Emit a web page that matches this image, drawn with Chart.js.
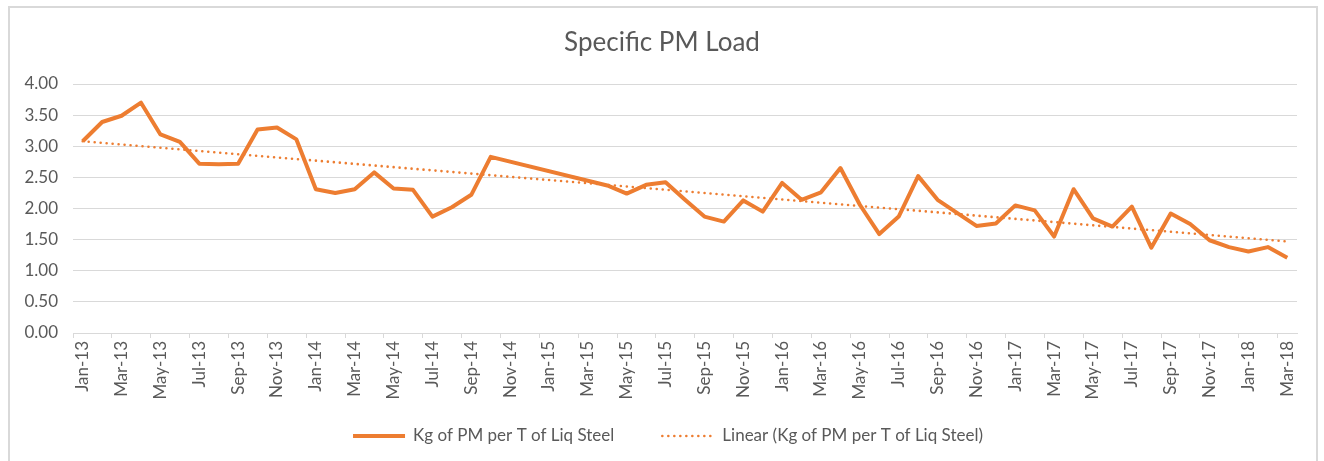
<!DOCTYPE html>
<html>
<head>
<meta charset="utf-8">
<title>Specific PM Load</title>
<script src="https://cdn.jsdelivr.net/npm/chart.js@4.4.1/dist/chart.umd.min.js"></script>
<style>
  html, body { margin: 0; padding: 0; background: #ffffff; overflow: hidden; }
  #wrap { position: relative; width: 1324px; height: 461px; }
  #frame {
    position: absolute; left: 8px; top: 6px; width: 1310px; height: 480px;
    border: 2px solid #d9d9d9; box-sizing: border-box;
  }
  #chart { position: absolute; left: 0; top: 0; }
</style>
</head>
<body>
<div id="wrap">
  <div id="frame"></div>
  <canvas id="chart" width="1324" height="461"></canvas>
</div>
<script>
// Monthly categories, Jan-13 .. Mar-18
const months = [
  'Jan-13','Feb-13','Mar-13','Apr-13','May-13','Jun-13','Jul-13','Aug-13','Sep-13','Oct-13','Nov-13','Dec-13',
  'Jan-14','Feb-14','Mar-14','Apr-14','May-14','Jun-14','Jul-14','Aug-14','Sep-14','Oct-14','Nov-14','Dec-14',
  'Jan-15','Feb-15','Mar-15','Apr-15','May-15','Jun-15','Jul-15','Aug-15','Sep-15','Oct-15','Nov-15','Dec-15',
  'Jan-16','Feb-16','Mar-16','Apr-16','May-16','Jun-16','Jul-16','Aug-16','Sep-16','Oct-16','Nov-16','Dec-16',
  'Jan-17','Feb-17','Mar-17','Apr-17','May-17','Jun-17','Jul-17','Aug-17','Sep-17','Oct-17','Nov-17','Dec-17',
  'Jan-18','Feb-18','Mar-18'
];

// Kg of PM per tonne of liquid steel (no readings Nov-14 .. Mar-15)
const pmLoad = [
  3.08, 3.39, 3.49, 3.70, 3.19, 3.07, 2.72, 2.71, 2.72, 3.27, 3.30, 3.11,
  2.31, 2.25, 2.31, 2.58, 2.32, 2.30, 1.87, 2.02, 2.22, 2.83, null, null,
  null, null, null, 2.37, 2.24, 2.38, 2.42, 2.14, 1.87, 1.79, 2.13, 1.95,
  2.41, 2.14, 2.26, 2.65, 2.06, 1.59, 1.87, 2.52, 2.14, 1.93, 1.72, 1.76,
  2.05, 1.97, 1.55, 2.31, 1.84, 1.71, 2.03, 1.37, 1.92, 1.75, 1.49, 1.38,
  1.31, 1.38, 1.21
];

// Linear trend: value at the first and at the last month
const trendEnds = [3.08, 1.47];

// Value axis
const yMin = 0;
const yMax = 4;
const yStep = 0.5;

const seriesName = 'Kg of PM per T of Liq Steel';
const trendName = 'Linear (Kg of PM per T of Liq Steel)';

const ORANGE = '#ED7D31';
const TEXT = '#595959';
const GRID = '#d9d9d9';
const FONT = 'Lato, "Open Sans", sans-serif';

const last = months.length - 1;
const trendData = months.map((m, i) => (i === 0 ? trendEnds[0] : (i === last ? trendEnds[1] : null)));

// One-row legend under the axis: line sample + label for each dataset
const legendRow = {
  id: 'legendRow',
  afterDraw(chart, args, opts) {
    const ctx = chart.ctx;
    ctx.save();
    ctx.font = opts.fontSize + 'px ' + FONT;
    const items = chart.data.datasets.map((ds) => ({
      ds,
      w: opts.sampleWidth + opts.textGap + ctx.measureText(ds.label).width
    }));
    const total = items.reduce((s, it) => s + it.w, 0) + opts.gap * (items.length - 1);
    let x = opts.centerX - total / 2;
    items.forEach((it) => {
      const ds = it.ds;
      ctx.strokeStyle = ds.borderColor;
      ctx.lineWidth = ds.borderWidth;
      ctx.setLineDash(ds.borderDash || []);
      ctx.lineCap = ds.borderCapStyle || 'butt';
      ctx.beginPath();
      ctx.moveTo(x, opts.y);
      ctx.lineTo(x + opts.sampleWidth, opts.y);
      ctx.stroke();
      ctx.setLineDash([]);
      ctx.fillStyle = TEXT;
      ctx.textAlign = 'left';
      ctx.textBaseline = 'middle';
      ctx.fillText(ds.label, x + opts.sampleWidth + opts.textGap, opts.y);
      x += it.w + opts.gap;
    });
    ctx.restore();
  }
};

new Chart(document.getElementById('chart'), {
  type: 'line',
  data: {
    labels: months,
    datasets: [
      {
        label: seriesName,
        data: pmLoad,
        borderColor: ORANGE,
        backgroundColor: ORANGE,
        borderWidth: 4,
        borderJoinStyle: 'round',
        borderCapStyle: 'butt',
        pointRadius: 0,
        pointHoverRadius: 0,
        spanGaps: true,
        tension: 0,
        order: 2
      },
      {
        label: trendName,
        data: trendData,
        borderColor: ORANGE,
        backgroundColor: ORANGE,
        borderWidth: 2.6,
        borderDash: [0, 6],
        borderCapStyle: 'round',
        pointRadius: 0,
        pointHoverRadius: 0,
        spanGaps: true,
        tension: 0,
        order: 1
      }
    ]
  },
  options: {
    responsive: false,
    animation: false,
    events: [],
    layout: { padding: { left: 0, right: 0, top: 0, bottom: 58 } },
    scales: {
      x: {
        offset: true,
        afterFit: (s) => { s.height = 70; },
        border: { display: true, color: GRID, width: 1 },
        grid: {
          offset: true,
          drawOnChartArea: false,
          drawTicks: true,
          tickLength: 5,
          color: (ctx) => (ctx.index % 2 === 0 ? GRID : 'rgba(0,0,0,0)')
        },
        ticks: {
          autoSkip: false,
          minRotation: 90,
          maxRotation: 90,
          padding: 3,
          color: TEXT,
          font: { family: FONT, size: 17 },
          callback: function (v, i) { return i % 2 === 0 ? this.getLabelForValue(v) : ''; }
        }
      },
      y: {
        min: yMin,
        max: yMax,
        afterFit: (s) => { s.width = 73; },
        border: { display: false },
        grid: { color: GRID, lineWidth: 1, drawTicks: false },
        ticks: {
          stepSize: yStep,
          padding: 15,
          color: TEXT,
          font: { family: FONT, size: 17 },
          callback: (v) => Number(v).toFixed(2)
        }
      },
      // empty right-hand margin of the plot
      yRight: {
        position: 'right',
        display: true,
        afterFit: (s) => { s.width = 27; },
        border: { display: false },
        grid: { display: false },
        ticks: { display: false }
      }
    },
    plugins: {
      title: {
        display: true,
        text: 'Specific PM Load',
        color: TEXT,
        font: { family: FONT, size: 26, weight: 'normal' },
        padding: { top: 27.4, bottom: 25.4 }
      },
      legend: { display: false },
      legendRow: { y: 436, centerX: 668, gap: 48, sampleWidth: 52, textGap: 8, fontSize: 17 },
      tooltip: { enabled: false }
    }
  },
  plugins: [legendRow]
});
</script>
</body>
</html>
